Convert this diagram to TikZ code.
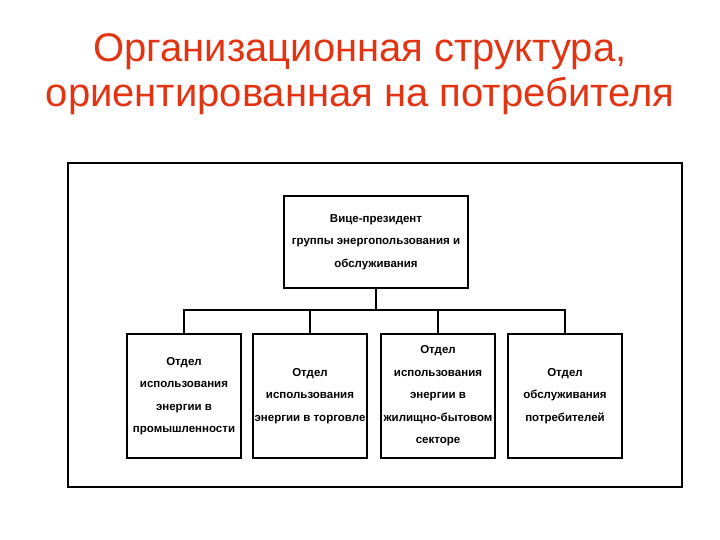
\documentclass[tikz,border=0pt]{standalone}
\usepackage{fontspec}
\setmainfont{Liberation Sans}
\definecolor{titlered}{RGB}{226,52,18}
\begin{document}
\begin{tikzpicture}[x=1pt, y=-1pt,
  box/.style={draw, line width=2.4pt, align=center, inner sep=1pt, font=\fontsize{11.5}{22.5}\selectfont\bfseries},
  link/.style={line width=1.6pt}]
  \useasboundingbox (0,0) rectangle (720,540);
  \node[titlered, font=\fontsize{40}{45}\selectfont, align=center] (title) at (360,74) {Организационная структура,\\ориентированная на потребителя};
  \draw[line width=2pt] (68,163) rectangle (682,487);
  \node[box, minimum width=184pt, minimum height=92pt] (vp) at (376,242) {Вице-президент\\группы энергопользования и\\обслуживания};
  \node[box, minimum width=114pt, minimum height=124pt] (d1) at (184,396) {Отдел\\использования\\энергии в\\промышленности};
  \node[box, minimum width=114pt, minimum height=124pt] (d2) at (310,396) {Отдел\\использования\\энергии в торговле};
  \node[box, minimum width=114pt, minimum height=124pt] (d3) at (438,396) {Отдел\\использования\\энергии в\\жилищно-бытовом\\секторе};
  \node[box, minimum width=114pt, minimum height=124pt] (d4) at (565,396) {Отдел\\обслуживания\\потребителей};
  \coordinate (bus) at (376,310);
  \draw[link] (vp.south) -- (bus);
  \draw[link] (d1.north) |- (bus) -| (d4.north);
  \draw[link] (d2.north) -- (d2.north |- bus);
  \draw[link] (d3.north) -- (d3.north |- bus);
\end{tikzpicture}
\end{document}
